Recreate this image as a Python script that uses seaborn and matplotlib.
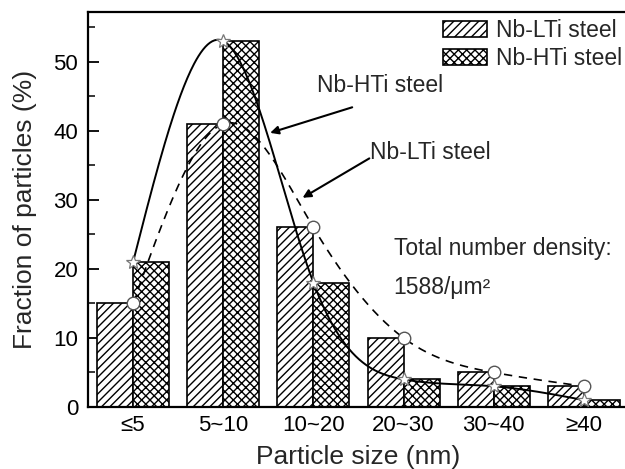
import numpy as np
import pandas as pd
import matplotlib
matplotlib.use("Agg")
import matplotlib.pyplot as plt
from matplotlib.patches import Patch
import seaborn as sns

# Particle size classes and fraction of particles (%) for each steel
size_classes = ["≤5", "5~10", "10~20", "20~30", "30~40", "≥40"]
nb_lti = [15, 41, 26, 10, 5, 3]
nb_hti = [21, 53, 18, 4, 3, 1]
series_names = ["Nb-LTi steel", "Nb-HTi steel"]
density_text = ["Total number density:", "1588/μm²"]

sns.set_theme(style="ticks")
plt.rcParams["font.family"] = ["Liberation Sans", "DejaVu Sans"]
plt.rcParams["hatch.linewidth"] = 1.0
plt.rcParams["hatch.color"] = "black"

df = pd.DataFrame({
    "size": size_classes * 2,
    "fraction": nb_lti + nb_hti,
    "steel": [series_names[0]] * len(size_classes) + [series_names[1]] * len(size_classes),
})

fig = plt.figure(figsize=(6.25, 4.69), dpi=100)
ax = fig.add_axes([88 / 625, 62 / 469, 541 / 625, 395 / 469])

sns.barplot(data=df, x="size", y="fraction", hue="steel", order=size_classes,
            hue_order=series_names, palette=["white", "white"], edgecolor="black",
            linewidth=1.2, width=0.8, saturation=1, ax=ax, legend=False)

hatches = {series_names[0]: "////", series_names[1]: "xxxx"}
for container, name in zip(ax.containers, series_names):
    for bar in container:
        bar.set_hatch(hatches[name])
        bar.set_edgecolor("black")


def natural_spline(x, y, xs):
    x = np.asarray(x, float)
    y = np.asarray(y, float)
    n = len(x)
    h = np.diff(x)
    A = np.zeros((n, n))
    b = np.zeros(n)
    A[0, 0] = A[-1, -1] = 1.0
    for i in range(1, n - 1):
        A[i, i - 1] = h[i - 1]
        A[i, i] = 2 * (h[i - 1] + h[i])
        A[i, i + 1] = h[i]
        b[i] = 3 * ((y[i + 1] - y[i]) / h[i] - (y[i] - y[i - 1]) / h[i - 1])
    c = np.linalg.solve(A, b)
    out = np.empty_like(xs)
    for k, xv in enumerate(xs):
        i = min(max(np.searchsorted(x, xv) - 1, 0), n - 2)
        dx = xv - x[i]
        bi = (y[i + 1] - y[i]) / h[i] - h[i] * (2 * c[i] + c[i + 1]) / 3
        di = (c[i + 1] - c[i]) / (3 * h[i])
        out[k] = y[i] + bi * dx + c[i] * dx ** 2 + di * dx ** 3
    return out


xpos = np.arange(len(size_classes))
xs = np.linspace(0, len(size_classes) - 1, 400)
ax.plot(xs, natural_spline(xpos, nb_lti, xs), color="black", lw=1.2,
        ls=(0, (5, 4)), zorder=4)
ax.plot(xs, natural_spline(xpos, nb_hti, xs), color="black", lw=1.4, zorder=4)
ax.plot(xpos, nb_lti, ls="none", marker="o", ms=9, mfc="white", mec="#555555",
        mew=1.0, zorder=5)
ax.plot(xpos, nb_hti, ls="none", marker="*", ms=10, mfc="white", mec="#777777",
        mew=0.9, zorder=5)

ax.set_xlim(-0.5, 5.5)
ax.set_ylim(0, 57.2)
ax.set_yticks(np.arange(0, 51, 10))
ax.set_yticks(np.arange(5, 56, 10), minor=True)
ax.tick_params(axis="y", which="major", direction="in", length=8, width=1.3,
               labelsize=16, pad=7, colors="black")
ax.tick_params(axis="y", which="minor", direction="in", length=5, width=1.3)
ax.tick_params(axis="x", length=0, labelsize=16, pad=6, colors="black")
for s in ax.spines.values():
    s.set_linewidth(1.6)
    s.set_color("black")

ax.set_xlabel("Particle size (nm)", fontsize=19, labelpad=6)
ax.set_ylabel("Fraction of particles (%)", fontsize=19, labelpad=12)

# Labelled arrows pointing at the fitted curves
fs = 16.5
ax.text(2.04, 45.65, series_names[1], fontsize=fs, va="baseline", ha="left")
ax.annotate("", xy=(1.52, 39.7), xytext=(2.43, 43.4),
            arrowprops=dict(arrowstyle="-|>", color="black", lw=1.5,
                            mutation_scale=12, shrinkA=0, shrinkB=0))
ax.text(2.63, 35.9, series_names[0], fontsize=fs, va="baseline", ha="left")
ax.annotate("", xy=(1.88, 30.3), xytext=(2.62, 36.0),
            arrowprops=dict(arrowstyle="-|>", color="black", lw=1.5,
                            mutation_scale=12, shrinkA=0, shrinkB=0))

ax.text(2.89, 22.0, density_text[0], fontsize=fs, va="baseline", ha="left")
ax.text(2.89, 16.4, density_text[1], fontsize=fs, va="baseline", ha="left")

handles = [Patch(facecolor="white", edgecolor="black", hatch=hatches[n], lw=1.2)
           for n in series_names]
ax.legend(handles, series_names, loc="upper right",
          bbox_to_anchor=(622 / 625, 1 - 19 / 469),
          bbox_transform=fig.transFigure, frameon=False, fontsize=fs,
          handlelength=1.92, handleheight=0.7, handletextpad=0.39,
          labelspacing=0.22, borderpad=0, borderaxespad=0)

fig.savefig("out.png", dpi=100)
